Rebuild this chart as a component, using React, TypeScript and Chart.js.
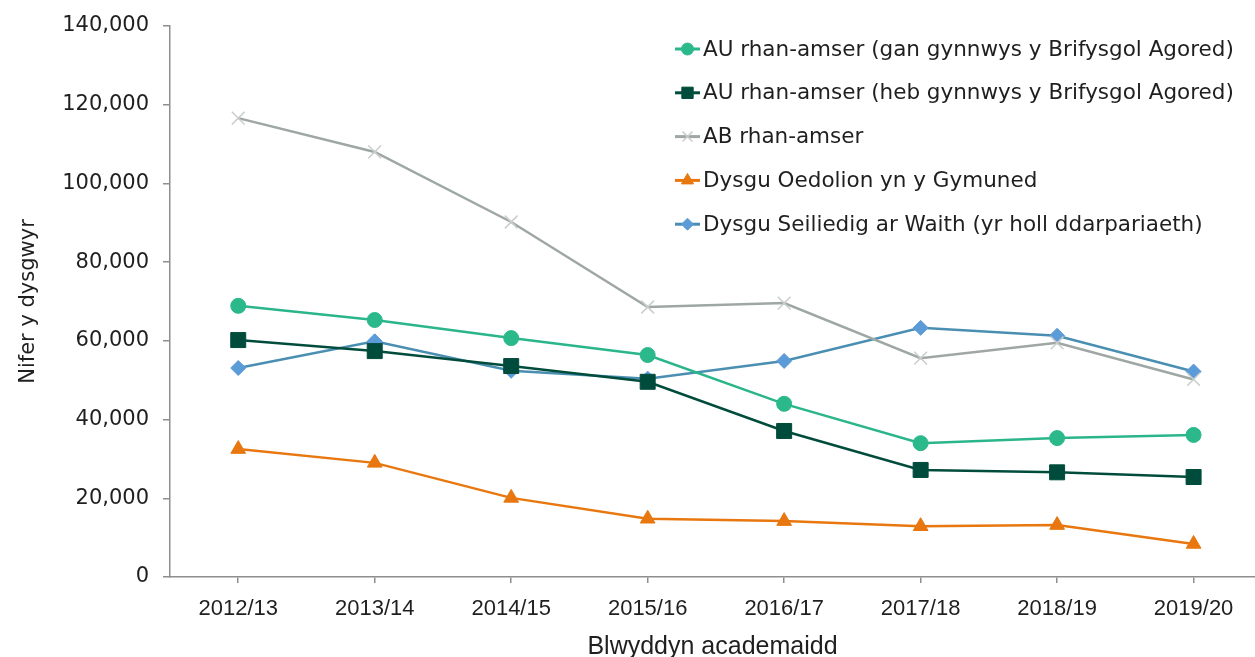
import React, { useEffect, useRef } from "react";
import { Chart, registerables } from "chart.js";
import { drawPoint } from "chart.js/helpers";

Chart.register(...registerables);

const CATEGORIES = ["2012/13", "2013/14", "2014/15", "2015/16", "2016/17", "2017/18", "2018/19", "2019/20"];
const Y_TICKS = [0, 20000, 40000, 60000, 80000, 100000, 120000, 140000];

const AU_GAN = [68900, 65300, 60700, 56400, 44000, 34000, 35300, 36100];
const AU_HEB = [60200, 57400, 53600, 49600, 37100, 27200, 26600, 25400];
const AB = [116600, 108000, 90200, 68600, 69600, 55600, 59500, 50200];
const DYSGU_OEDOLION = [32500, 29000, 20100, 14800, 14200, 12900, 13200, 8400];
const DYSGU_GWAITH = [53100, 59900, 52400, 50400, 54900, 63300, 61300, 52200];

const LABELS = [
  "AU rhan-amser (gan gynnwys y Brifysgol Agored)",
  "AU rhan-amser (heb gynnwys y Brifysgol Agored)",
  "AB rhan-amser",
  "Dysgu Oedolion yn y Gymuned",
  "Dysgu Seiliedig ar Waith (yr holl ddarpariaeth)",
];

const AXIS_COLOR = "#8e8e8e";
const TEXT_COLOR = "#1f1f1f";
const WIDE_FONT = "'DejaVu Sans', Verdana, sans-serif";
const NARROW_FONT = "'Liberation Sans', Arial, sans-serif";

const toPoints = (vals: number[]) => vals.map((v, i) => ({ x: i, y: v }));

const legendPlugin = {
  id: "customLegend",
  afterDraw(chart: any) {
    const ctx = chart.ctx as CanvasRenderingContext2D;
    const x0 = 675;
    const y0 = 49;
    const gap = 43.8;
    chart.data.datasets.forEach((ds: any, i: number) => {
      const y = y0 + i * gap;
      ctx.save();
      ctx.strokeStyle = ds.borderColor;
      ctx.lineWidth = 3;
      ctx.beginPath();
      ctx.moveTo(x0, y);
      ctx.lineTo(x0 + 25, y);
      ctx.stroke();
      ctx.fillStyle = ds.pointBackgroundColor;
      ctx.strokeStyle = ds.pointBorderColor;
      ctx.lineWidth = ds.pointBorderWidth;
      drawPoint(ctx, { pointStyle: ds.pointStyle, radius: ds.legendRadius, borderWidth: ds.pointBorderWidth, rotation: 0 } as any, x0 + 12.5, y);
      ctx.fillStyle = TEXT_COLOR;
      ctx.font = `21.5px ${WIDE_FONT}`;
      ctx.textBaseline = "middle";
      ctx.textAlign = "left";
      ctx.fillText(ds.label, x0 + 28, y + 1);
      ctx.restore();
    });
  },
};

export default function App() {
  const ref = useRef<HTMLCanvasElement | null>(null);

  useEffect(() => {
    if (!ref.current) return;
    const mk = (label: string, vals: number[], line: string, fill: string, border: string, style: string, r: number, lr: number, bw: number) => ({
      label,
      data: toPoints(vals),
      borderColor: line,
      borderWidth: 2.5,
      pointBackgroundColor: fill,
      pointBorderColor: border,
      pointBorderWidth: bw,
      pointStyle: style,
      pointRadius: r,
      legendRadius: lr,
      tension: 0,
      fill: false,
      clip: false,
    });
    const chart = new Chart(ref.current, {
      type: "line",
      data: {
        datasets: [
          mk(LABELS[0], AU_GAN, "#2bb58a", "#2bb98b", "#2bb98b", "circle", 7.5, 6, 1),
          mk(LABELS[1], AU_HEB, "#004c3c", "#004c3c", "#004c3c", "rect", 10.6, 8, 1),
          mk(LABELS[2], AB, "#9ea7a4", "#c9cdcc", "#c9cdcc", "crossRot", 9, 7, 1.5),
          mk(LABELS[3], DYSGU_OEDOLION, "#e8770f", "#e8770f", "#e8770f", "triangle", 8.5, 7, 1),
          mk(LABELS[4], DYSGU_GWAITH, "#4a8fb2", "#5b9bd8", "#5b9bd8", "rectRot", 7.5, 6, 1),
        ] as any,
      },
      options: {
        animation: false,
        responsive: false,
        layout: { autoPadding: false, padding: { top: 26, right: 0, left: 0, bottom: 0 } },
        plugins: { legend: { display: false }, tooltip: { enabled: false } },
        scales: {
          x: {
            type: "linear",
            min: -0.5,
            max: 7.45,
            afterBuildTicks: (axis: any) => {
              axis.ticks = CATEGORIES.map((_, i) => ({ value: i }));
            },
            afterFit: (axis: any) => {
              axis.height = 80;
              axis.paddingLeft = 0;
              axis.paddingRight = 0;
            },
            border: { display: true, color: AXIS_COLOR, width: 1.5 },
            grid: { drawOnChartArea: false, drawTicks: true, tickLength: 6, color: AXIS_COLOR, lineWidth: 1.5 },
            ticks: {
              padding: 13,
              maxRotation: 0,
              autoSkip: false,
              color: TEXT_COLOR,
              font: { family: NARROW_FONT, size: 22 },
              callback: (v: any) => CATEGORIES[Math.round(Number(v))] ?? "",
            },
            title: {
              display: true,
              text: "Blwyddyn academaidd",
              color: TEXT_COLOR,
              font: { family: NARROW_FONT, size: 25 },
              padding: { top: 0, bottom: -5 },
            },
          },
          y: {
            type: "linear",
            min: 0,
            max: 140000,
            afterBuildTicks: (axis: any) => {
              axis.ticks = Y_TICKS.map((v) => ({ value: v }));
            },
            afterFit: (axis: any) => {
              axis.width = 170;
              axis.paddingTop = 0;
              axis.paddingBottom = 0;
            },
            border: { display: true, color: AXIS_COLOR, width: 1.5 },
            grid: { drawOnChartArea: false, drawTicks: true, tickLength: 7, color: AXIS_COLOR, lineWidth: 1.5 },
            ticks: {
              padding: 14,
              color: TEXT_COLOR,
              font: { family: WIDE_FONT, size: 21 },
              callback: (v: any) => Number(v).toLocaleString("en-GB"),
            },
            title: {
              display: true,
              text: "Nifer y dysgwyr",
              color: TEXT_COLOR,
              font: { family: WIDE_FONT, size: 21 },
              padding: { top: 16, bottom: 0 },
            },
          },
        },
      },
      plugins: [legendPlugin],
    });
    return () => chart.destroy();
  }, []);

  return (
    <div style={{ position: "absolute", left: 0, top: 0, width: 1255, height: 657, background: "#fff" }}>
      <canvas ref={ref} width={1255} height={657} style={{ display: "block" }} />
    </div>
  );
}
